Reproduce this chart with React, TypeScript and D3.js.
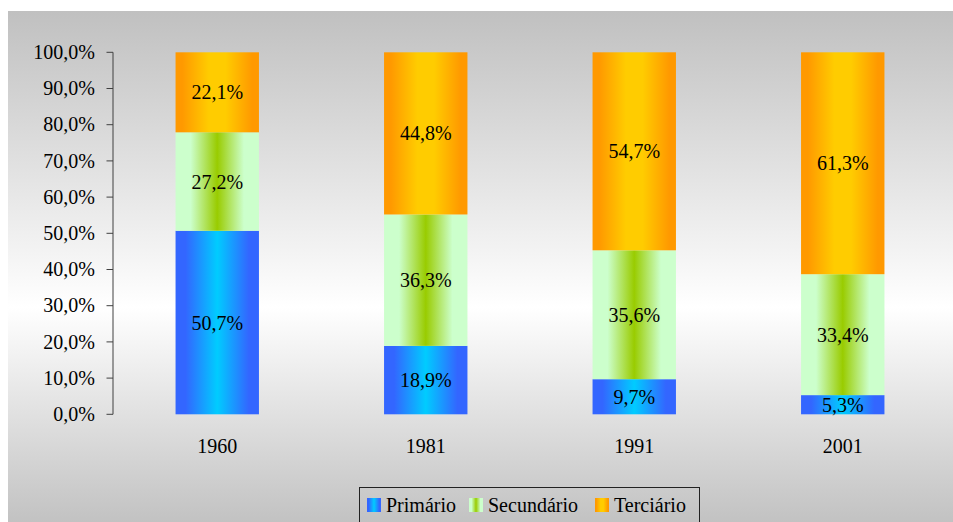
import React from "react";
import * as d3 from "d3";

const years = ["1960", "1981", "1991", "2001"];
const primario = [50.7, 18.9, 9.7, 5.3];
const secundario = [27.2, 36.3, 35.6, 33.4];
const terciario = [22.1, 44.8, 54.7, 61.3];
const seriesNames = ["Primário", "Secundário", "Terciário"];
const yTicks = [0, 10, 20, 30, 40, 50, 60, 70, 80, 90, 100];

const W = 953;
const H = 522;
const FONT = "'Liberation Serif', 'Times New Roman', serif";

const fmt = (v: number) => v.toFixed(1).replace(".", ",") + "%";

const gradDefs = [
  { id: "gP", stops: [["0%", "#3366ff"], ["12%", "#3366ff"], ["50%", "#00ccff"], ["88%", "#3366ff"], ["100%", "#3366ff"]] },
  { id: "gS", stops: [["0%", "#ccffcc"], ["18%", "#ccffcc"], ["50%", "#99cc00"], ["82%", "#ccffcc"], ["100%", "#ccffcc"]] },
  { id: "gT", stops: [["0%", "#ff9900"], ["8%", "#ff9900"], ["40%", "#ffcc00"], ["60%", "#ffcc00"], ["92%", "#ff9900"], ["100%", "#ff9900"]] },
];

export default function App() {
  const left = 113;
  const right = 947;
  const y = d3.scaleLinear().domain([0, 100]).range([414.3, 52.3]);
  const x = d3.scaleBand().domain(years).range([left, right]).paddingInner(0.6).paddingOuter(0.3);

  const table = years.map((yr, i) => ({ year: yr, p: primario[i], s: secundario[i], t: terciario[i] }));
  const stack = d3.stack<any>().keys(["p", "s", "t"])(table);
  const grads = ["gP", "gS", "gT"];

  return (
    <div style={{ position: "fixed", left: 0, top: 0, width: W, height: H, background: "#fff" }}>
      <svg width={W} height={H} style={{ display: "block" }}>
        <defs>
          <linearGradient id="bg" x1="0" y1="0" x2="0" y2="1">
            <stop offset="0%" stopColor="#c0c0c0" />
            <stop offset="58%" stopColor="#ffffff" />
            <stop offset="100%" stopColor="#c2c2c2" />
          </linearGradient>
          {gradDefs.map((g) => (
            <linearGradient key={g.id} id={g.id} x1="0" y1="0" x2="1" y2="0">
              {g.stops.map(([o, c], k) => (
                <stop key={k} offset={o} stopColor={c} />
              ))}
            </linearGradient>
          ))}
        </defs>
        <rect x={8} y={11} width={W - 8} height={H - 11} fill="url(#bg)" />

        {/* axis */}
        <line x1={left} x2={left} y1={y(0)} y2={y(100)} stroke="#404040" strokeWidth={1} />
        {yTicks.map((t) => (
          <g key={t}>
            <line x1={left - 6.5} x2={left} y1={y(t)} y2={y(t)} stroke="#404040" strokeWidth={1} />
            <text x={95} y={y(t)} dy="0.33em" textAnchor="end" fontFamily={FONT} fontSize={20} fill="#000">
              {fmt(t)}
            </text>
          </g>
        ))}

        {/* bars */}
        {stack.map((layer, li) =>
          layer.map((d, i) => {
            const x0 = x(years[i])!;
            const y0 = y(d[1]);
            const y1 = y(d[0]);
            const v = d[1] - d[0];
            return (
              <g key={li + "-" + i}>
                <rect x={x0} y={y0} width={x.bandwidth()} height={y1 - y0} fill={`url(#${grads[li]})`} />
                <text
                  x={x0 + x.bandwidth() / 2}
                  y={(y0 + y1) / 2}
                  dy="0.35em"
                  textAnchor="middle"
                  fontFamily={FONT}
                  fontSize={20}
                  fill="#000"
                >
                  {fmt(v)}
                </text>
              </g>
            );
          })
        )}

        {/* x labels */}
        {years.map((yr) => (
          <text key={yr} x={x(yr)! + x.bandwidth() / 2} y={453} textAnchor="middle" fontFamily={FONT} fontSize={20} fill="#000">
            {yr}
          </text>
        ))}

        {/* legend */}
        <rect x={359.5} y={487.5} width={340} height={50} fill="none" stroke="#222" strokeWidth={1} />
        {seriesNames.map((n, i) => {
          const sx = [367, 469, 595][i];
          return (
            <g key={n}>
              <rect x={sx} y={498} width={14} height={14} fill={`url(#${grads[i]})`} />
              <text x={sx + 19} y={512} fontFamily={FONT} fontSize={20} fill="#000">
                {n}
              </text>
            </g>
          );
        })}
      </svg>
    </div>
  );
}
